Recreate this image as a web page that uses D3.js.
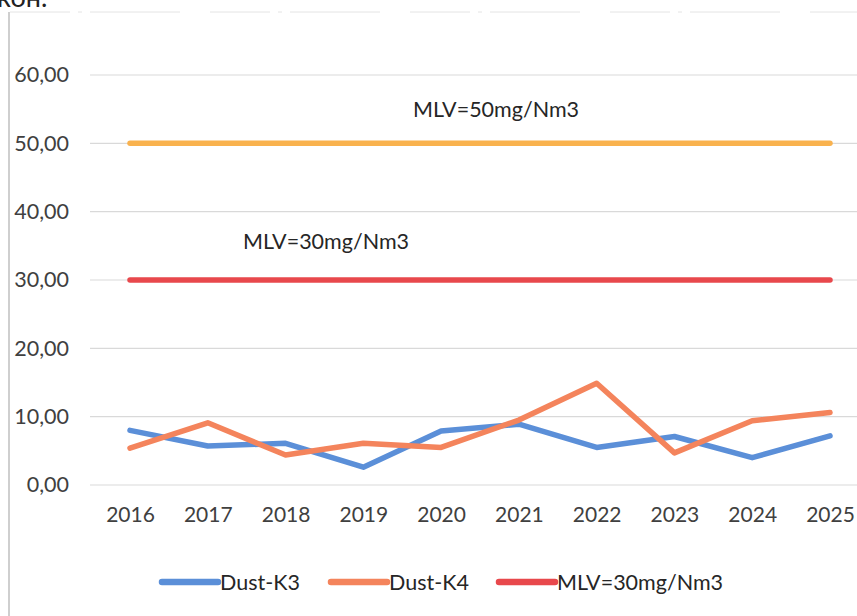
<!DOCTYPE html>
<html>
<head>
<meta charset="utf-8">
<script src="https://cdn.jsdelivr.net/npm/d3@7"></script>
<style>
  html, body { margin: 0; padding: 0; background: #fff; }
  svg { display: block; font-family: Lato, "Open Sans", sans-serif; }
</style>
</head>
<body>
<svg id="chart" width="857" height="616"></svg>
<script>
// Annual dust emission measurements per stack (mg/Nm3)
const years = ["2016", "2017", "2018", "2019", "2020", "2021", "2022", "2023", "2024", "2025"];
const dustK3 = [8.0, 5.7, 6.1, 2.6, 7.9, 8.9, 5.5, 7.1, 4.0, 7.2];
const dustK4 = [5.4, 9.1, 4.4, 6.1, 5.5, 9.5, 14.9, 4.7, 9.4, 10.6];
const mlv30 = [30, 30, 30, 30, 30, 30, 30, 30, 30, 30];
const mlv50 = [50, 50, 50, 50, 50, 50, 50, 50, 50, 50];
const yTicks = [0, 10, 20, 30, 40, 50, 60];
const legendNames = ["Dust-K3", "Dust-K4", "MLV=30mg/Nm3"];

const colors = {
  k3: "#5b8fd8",
  k4: "#f4845c",
  mlv30: "#e8484c",
  mlv50: "#f9b24e"
};

const svg = d3.select("#chart");

const x = d3.scalePoint().domain(years).range([130, 830]);
const y = d3.scaleLinear().domain([0, 60]).range([485, 75]);

// Fragment of the surrounding document text and the chart frame
svg.append("text")
  .attr("x", -3).attr("y", 7)
  .attr("font-size", 27).attr("fill", "#222")
  .text("кон.");
svg.append("line")
  .attr("x1", 9).attr("x2", 9).attr("y1", 12).attr("y2", 616)
  .attr("stroke", "#cfcfcf").attr("stroke-width", 2);
svg.append("line")
  .attr("x1", 10).attr("x2", 857).attr("y1", 12).attr("y2", 12)
  .attr("stroke", "#e4e4e4").attr("stroke-width", 1)
  .attr("stroke-dasharray", "60,8,4,8,90,30");

// Horizontal gridlines
svg.append("g").selectAll("line").data(yTicks).join("line")
  .attr("x1", 90).attr("x2", 857)
  .attr("y1", d => y(d)).attr("y2", d => y(d))
  .attr("stroke", "#d9d9d9").attr("stroke-width", 1.2);

// Y axis tick labels
const yAxis = d3.axisLeft(y).tickValues(yTicks).tickSize(0).tickPadding(0)
  .tickFormat(d => d3.format(".2f")(d).replace(".", ","));
const yg = svg.append("g").attr("transform", "translate(69,0)").call(yAxis);
yg.select(".domain").remove();
yg.selectAll("text").attr("font-size", 21.5).attr("fill", "#404040")
  .attr("font-family", "Lato, sans-serif");

// X axis year labels
const xAxis = d3.axisBottom(x).tickSize(0).tickPadding(0);
const xg = svg.append("g").attr("transform", "translate(0,507)").call(xAxis);
xg.select(".domain").remove();
xg.selectAll("text").attr("font-size", 21).attr("fill", "#404040")
  .attr("font-family", "Lato, sans-serif");

const line = d3.line().x((d, i) => x(years[i])).y(d => y(d));

function drawSeries(values, color) {
  svg.append("path")
    .datum(values)
    .attr("d", line)
    .attr("fill", "none")
    .attr("stroke", color)
    .attr("stroke-width", 5.5)
    .attr("stroke-linecap", "round")
    .attr("stroke-linejoin", "round");
}

drawSeries(mlv50, colors.mlv50);
drawSeries(mlv30, colors.mlv30);
drawSeries(dustK3, colors.k3);
drawSeries(dustK4, colors.k4);

// Limit labels
svg.append("text")
  .attr("x", 413).attr("y", 117)
  .attr("font-size", 21.5).attr("fill", "#262626")
  .text("MLV=50mg/Nm3");
svg.append("text")
  .attr("x", 243).attr("y", 249)
  .attr("font-size", 21.5).attr("fill", "#262626")
  .text("MLV=30mg/Nm3");

// Legend
const legendItems = [
  { name: legendNames[0], color: colors.k3, x: 162 },
  { name: legendNames[1], color: colors.k4, x: 331 },
  { name: legendNames[2], color: colors.mlv30, x: 499 }
];
const lg = svg.append("g").selectAll("g").data(legendItems).join("g")
  .attr("transform", d => `translate(${d.x},582)`);
lg.append("line")
  .attr("x1", 0).attr("x2", 56).attr("y1", 0).attr("y2", 0)
  .attr("stroke", d => d.color).attr("stroke-width", 6.5)
  .attr("stroke-linecap", "round");
lg.append("text")
  .attr("x", 58).attr("y", 8)
  .attr("font-size", 21.5).attr("fill", "#262626")
  .text(d => d.name);
</script>
</body>
</html>
